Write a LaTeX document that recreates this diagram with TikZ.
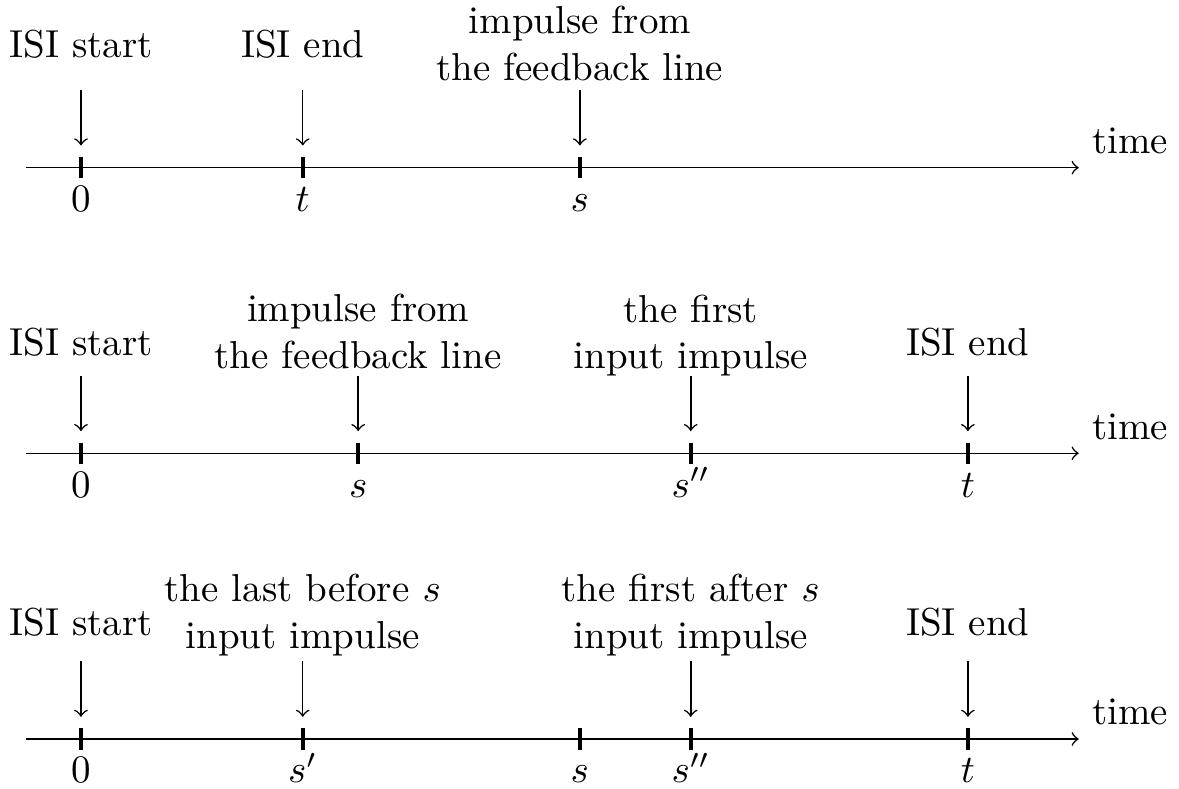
\documentclass[tikz,border=0pt]{standalone}
\usetikzlibrary{calc}
\begin{document}
\begin{tikzpicture}[x=0.5cm,y=0.5cm,
  axisline/.style={->, line width=0.4pt},
  tickmark/.style={line width=1pt},
  evarrow/.style={->, line width=0.4pt},
  toplabel/.style={align=center, anchor=center},
  ticklabel/.style={anchor=base},
  timelabel/.style={anchor=south west}]
\useasboundingbox (-1.461,-0.902) rectangle (19.809,13.332);

% ---------------- Row 1 ----------------
\coordinate (r1s) at (-1,10.307);
\coordinate (r1e) at (18,10.307);
\draw[axisline] (r1s) -- (r1e);
\node[timelabel] (r1time) at (r1e) {time};
\draw[tickmark] (0,10.117) -- (0,10.497);
\draw[tickmark] (4,10.117) -- (4,10.497);
\draw[tickmark] (9,10.117) -- (9,10.497);
\node[ticklabel] (r1n0) at (0,9.517) {$0$};
\node[ticklabel] (r1n1) at (4,9.517) {$t$};
\node[ticklabel] (r1n2) at (9,9.517) {$s$};
\node[toplabel] (r1l0) at (0,12.542) {ISI start};
\node[toplabel] (r1l1) at (4,12.542) {ISI end};
\node[toplabel] (r1l2) at (9,12.544) {impulse from\\the feedback line};
\coordinate (r1a0) at (0,11.707); \coordinate (r1b0) at (0,10.707);
\coordinate (r1a1) at (4,11.707); \coordinate (r1b1) at (4,10.707);
\coordinate (r1a2) at (9,11.707); \coordinate (r1b2) at (9,10.707);
\draw[evarrow] (r1a0) -- (r1b0);
\draw[evarrow] (r1a1) -- (r1b1);
\draw[evarrow] (r1a2) -- (r1b2);

% ---------------- Row 2 ----------------
\coordinate (r2s) at (-1,5.154);
\coordinate (r2e) at (18,5.154);
\draw[axisline] (r2s) -- (r2e);
\node[timelabel] (r2time) at (r2e) {time};
\draw[tickmark] (0,4.964) -- (0,5.344);
\draw[tickmark] (5,4.964) -- (5,5.344);
\draw[tickmark] (11,4.964) -- (11,5.344);
\draw[tickmark] (16,4.964) -- (16,5.344);
\node[ticklabel] (r2n0) at (0,4.364) {$0$};
\node[ticklabel] (r2n1) at (5,4.364) {$s$};
\node[ticklabel] (r2n2) at (11,4.364) {$s''$};
\node[ticklabel] (r2n3) at (16,4.364) {$t$};
\node[toplabel] (r2l0) at (0,7.154) {ISI start};
\node[toplabel] (r2l1) at (5,7.348) {impulse from\\the feedback line};
\node[toplabel] (r2l2) at (11,7.279) {the first\\input impulse};
\node[toplabel] (r2l3) at (16,7.154) {ISI end};
\coordinate (r2a0) at (0,6.554);  \coordinate (r2b0) at (0,5.554);
\coordinate (r2a1) at (5,6.554);  \coordinate (r2b1) at (5,5.554);
\coordinate (r2a2) at (11,6.554); \coordinate (r2b2) at (11,5.554);
\coordinate (r2a3) at (16,6.554); \coordinate (r2b3) at (16,5.554);
\draw[evarrow] (r2a0) -- (r2b0);
\draw[evarrow] (r2a1) -- (r2b1);
\draw[evarrow] (r2a2) -- (r2b2);
\draw[evarrow] (r2a3) -- (r2b3);

% ---------------- Row 3 ----------------
\coordinate (r3s) at (-1,0);
\coordinate (r3e) at (18,0);
\draw[axisline] (r3s) -- (r3e);
\node[timelabel] (r3time) at (r3e) {time};
\draw[tickmark] (0,-0.19) -- (0,0.19);
\draw[tickmark] (4,-0.19) -- (4,0.19);
\draw[tickmark] (9,-0.19) -- (9,0.19);
\draw[tickmark] (11,-0.19) -- (11,0.19);
\draw[tickmark] (16,-0.19) -- (16,0.19);
\node[ticklabel] (r3n0) at (0,-0.79) {$0$};
\node[ticklabel] (r3n1) at (4,-0.79) {$s'$};
\node[ticklabel] (r3n2) at (9,-0.79) {$s$};
\node[ticklabel] (r3n3) at (11,-0.79) {$s''$};
\node[ticklabel] (r3n4) at (16,-0.79) {$t$};
\node[toplabel] (r3l0) at (0,2.10) {ISI start};
\node[toplabel] (r3l1) at (4,2.23) {the last before $s$\\input impulse};
\node[toplabel] (r3l3) at (11,2.23) {the first after $s$\\input impulse};
\node[toplabel] (r3l4) at (16,2.10) {ISI end};
\coordinate (r3a0) at (0,1.4);  \coordinate (r3b0) at (0,0.4);
\coordinate (r3a1) at (4,1.4);  \coordinate (r3b1) at (4,0.4);
\coordinate (r3a3) at (11,1.4); \coordinate (r3b3) at (11,0.4);
\coordinate (r3a4) at (16,1.4); \coordinate (r3b4) at (16,0.4);
\draw[evarrow] (r3a0) -- (r3b0);
\draw[evarrow] (r3a1) -- (r3b1);
\draw[evarrow] (r3a3) -- (r3b3);
\draw[evarrow] (r3a4) -- (r3b4);
\end{tikzpicture}
\end{document}
